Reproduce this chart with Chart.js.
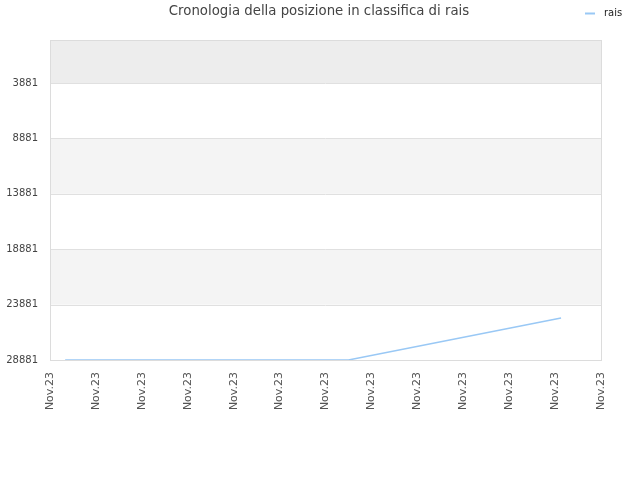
<!DOCTYPE html>
<html>
<head>
<meta charset="utf-8">
<script src="https://cdn.jsdelivr.net/npm/chart.js@4/dist/chart.umd.min.js"></script>
<style>
html,body{margin:0;padding:0;background:#fff;}
#wrap{position:relative;width:640px;height:480px;}
</style>
</head>
<body>
<div id="wrap"><canvas id="c" width="640" height="480"></canvas></div>
<script>
const titleText = "Cronologia della posizione in classifica di rais";
const seriesName = "rais";
const xTickLabels = ["Nov.23","Nov.23","Nov.23","Nov.23","Nov.23","Nov.23","Nov.23","Nov.23","Nov.23","Nov.23","Nov.23","Nov.23","Nov.23"];
const xPositions = [0.33, 6.5, 11.13];
const rankValues = [28881, 28881, 25090];
const yTicks = [3881, 8881, 13881, 18881, 23881, 28881];
const yMin = 0;
const yMax = 28881;
const bands = [[0, 3881, "#ededed"], [8881, 13881, "#f4f4f4"], [18881, 23881, "#f4f4f4"]];

const FONT = "DejaVu Sans";

const decor = {
  id: "decor",
  beforeDatasetsDraw(chart) {
    const {ctx, chartArea: a, scales: {y}} = chart;
    ctx.save();
    bands.forEach(b => {
      const p1 = y.getPixelForValue(b[0]);
      const p2 = y.getPixelForValue(b[1]);
      ctx.fillStyle = b[2];
      ctx.fillRect(a.left, Math.min(p1, p2), a.right - a.left, Math.abs(p2 - p1));
    });
    ctx.strokeStyle = "#e0e0e0";
    ctx.lineWidth = 1;
    yTicks.forEach(t => {
      const p = Math.round(y.getPixelForValue(t)) + 0.5;
      ctx.beginPath();
      ctx.moveTo(a.left, p);
      ctx.lineTo(a.right, p);
      ctx.stroke();
    });
    ctx.strokeStyle = "#dcdcdc";
    ctx.strokeRect(Math.round(a.left) + 0.5, Math.round(a.top) + 0.5, Math.round(a.right - a.left), Math.round(a.bottom - a.top));
    ctx.restore();
  },
  afterDraw(chart) {
    const ctx = chart.ctx;
    ctx.save();
    ctx.font = "13.3px '" + FONT + "'";
    ctx.fillStyle = "#444";
    ctx.textAlign = "center";
    ctx.textBaseline = "middle";
    ctx.fillText(titleText, 319, 12);
    ctx.strokeStyle = "#99c8f5";
    ctx.lineWidth = 2;
    ctx.beginPath();
    ctx.moveTo(585, 13.5);
    ctx.lineTo(595, 13.5);
    ctx.stroke();
    ctx.font = "10px '" + FONT + "'";
    ctx.fillStyle = "#222";
    ctx.textAlign = "left";
    ctx.fillText(seriesName, 604, 13);
    ctx.restore();
  }
};

new Chart(document.getElementById("c"), {
  type: "line",
  data: {
    datasets: [{
      label: seriesName,
      data: xPositions.map((x, i) => ({x: x, y: rankValues[i]})),
      borderColor: "#99c8f5",
      borderWidth: 1.5,
      pointRadius: 0,
      fill: false,
      tension: 0
    }]
  },
  options: {
    responsive: false,
    animation: false,
    devicePixelRatio: 1,
    layout: {padding: {top: 40, right: 39, left: 0, bottom: 0}},
    plugins: {legend: {display: false}, title: {display: false}, tooltip: {enabled: false}},
    scales: {
      x: {
        type: "linear",
        min: 0,
        max: 12,
        afterBuildTicks(s) { s.ticks = xTickLabels.map((l, i) => ({value: i})); },
        afterFit(s) { s.height = 120; },
        grid: {display: false, drawTicks: false},
        border: {display: false},
        ticks: {
          autoSkip: false,
          maxRotation: 90,
          minRotation: 90,
          padding: 12,
          color: "#555",
          font: {family: FONT, size: 11},
          callback: (v, i) => xTickLabels[i]
        }
      },
      y: {
        type: "linear",
        reverse: true,
        min: yMin,
        max: yMax,
        afterBuildTicks(s) { s.ticks = yTicks.map(v => ({value: v})); },
        afterFit(s) { s.width = 50; },
        grid: {display: false, drawTicks: false},
        border: {display: false},
        ticks: {
          padding: 12,
          color: "#444",
          font: {family: FONT, size: 10},
          callback: v => String(v)
        }
      }
    }
  },
  plugins: [decor]
});
</script>
</body>
</html>
